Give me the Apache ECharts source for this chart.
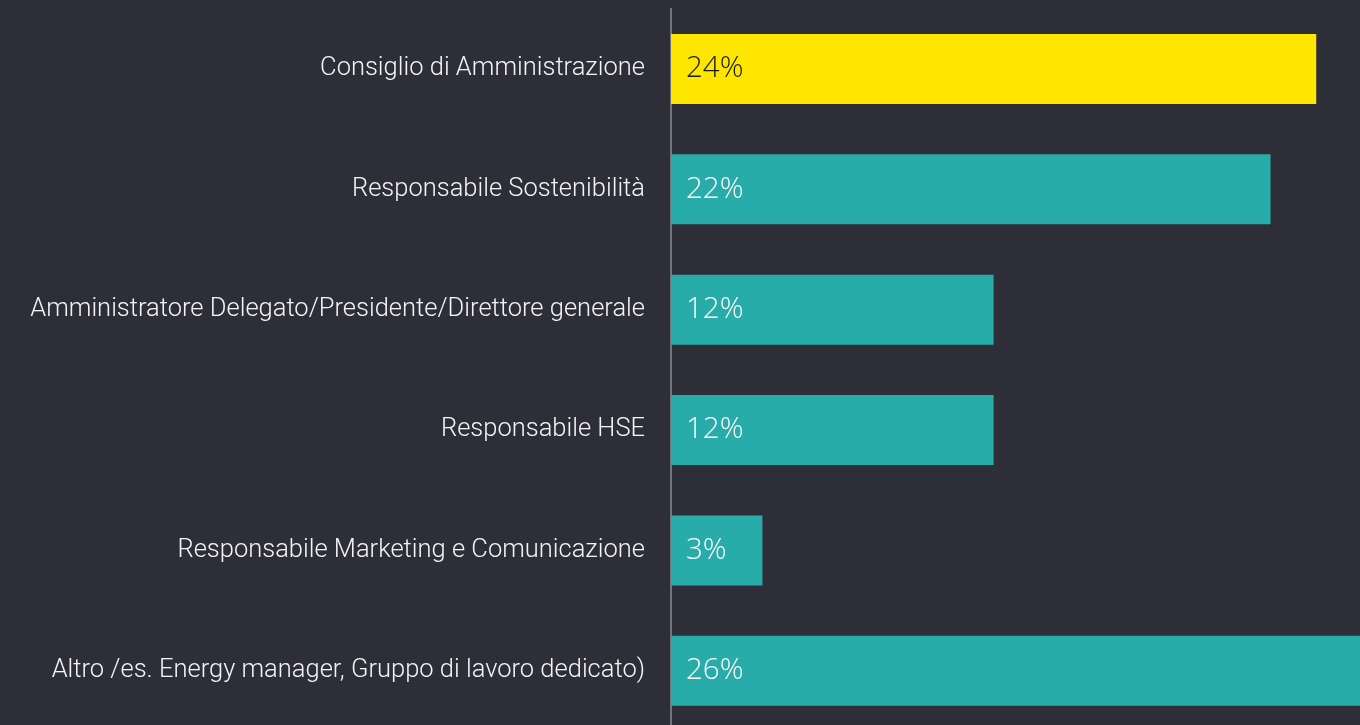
<!DOCTYPE html>
<html>
<head>
<meta charset="utf-8">
<script src="https://cdn.jsdelivr.net/npm/echarts@6/dist/echarts.min.js"></script>
<style>
html,body{margin:0;padding:0;background:#2e2e38;overflow:hidden;width:1360px;height:725px;}
#chart{width:1370px;height:731px;}
</style>
</head>
<body>
<div id="chart"></div>
<script>
const categories = [
  "Consiglio di Amministrazione",
  "Responsabile Sostenibilità",
  "Amministratore Delegato/Presidente/Direttore generale",
  "Responsabile HSE",
  "Responsabile Marketing e Comunicazione",
  "Altro /es. Energy manager, Gruppo di lavoro dedicato)"
];
const values = [24, 22.3, 12, 12, 3.4, 26];
const valueLabels = ["24%", "22%", "12%", "12%", "3%", "26%"];
const highlightIndex = 0;

const chart = echarts.init(document.getElementById('chart'), null, {renderer: 'canvas'});
chart.setOption({
  backgroundColor: '#2e2e38',
  animation: false,
  grid: {left: 671, top: 8.8, right: 0, bottom: 0, containLabel: false},
  xAxis: {
    type: 'value', min: 0, max: 26, show: false
  },
  yAxis: {
    type: 'category', inverse: true, data: categories, offset: 1,
    axisLine: {show: true, lineStyle: {color: '#747480', width: 2}},
    axisTick: {show: false},
    splitLine: {show: false},
    axisLabel: {
      color: '#f4f4f6', fontFamily: 'Roboto', fontWeight: 300, fontSize: 25.5, margin: 25
    }
  },
  series: [{
    type: 'bar',
    barWidth: 70,
    data: values.map((v, i) => ({
      value: v,
      itemStyle: {color: i === highlightIndex ? '#ffe600' : '#27acaa'},
      label: {color: i === highlightIndex ? '#1a1a24' : '#ffffff'}
    })),
    label: {
      show: true, position: 'insideLeft', distance: 15,
      fontFamily: 'Open Sans', fontWeight: 300, fontSize: 29.5,
      formatter: p => valueLabels[p.dataIndex]
    }
  }]
});
</script>
</body>
</html>
